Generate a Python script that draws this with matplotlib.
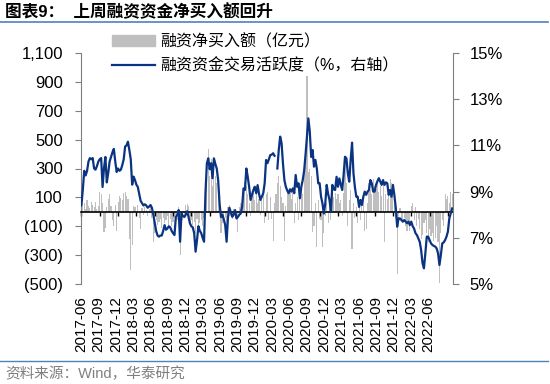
import numpy as np
import matplotlib
matplotlib.use('Agg')
import matplotlib.pyplot as plt
from matplotlib.patches import Patch
from matplotlib.lines import Line2D

plt.rcParams['font.family'] = ['Liberation Sans', 'Noto Sans CJK SC', 'DejaVu Sans']

# weekly data, 2017-06 .. 2022-06
tick_labels = ['2017-06', '2017-09', '2017-12', '2018-03', '2018-06', '2018-09', '2018-12',
               '2019-03', '2019-06', '2019-09', '2019-12', '2020-03', '2020-06', '2020-09',
               '2020-12', '2021-03', '2021-06', '2021-09', '2021-12', '2022-03', '2022-06']

# 融资净买入额 (亿元)
net_buy = [45, 30, 60, 20, 85, 40, 25, 70, 50, 30,
           65, 20, 40, 135, 120, 60, -140, -110, 30, 90,
           120, 40, -60, -100, 50, -130, 70, 110, 95, 80,
           130, 135, 110, 90, -190, -400, -230, 40, 30, -30,
           50, -40, -120, 25, -20, 35, 15, -30, 20, 30,
           -40, -210, -150, -60, -90, -70, -50, -110, -40, -80,
           -60, -30, -90, -50, -100, -70, -40, -20, -60, 30,
           -300, -40, -60, -20, 50, 55, 40, -75, -60, -90,
           -70, -145, -50, -110, -80, -60, -100, -40, 180, 300,
           435, 250, 365, 180, 300, 250, 200, 110, 40, -145,
           -80, -60, -40, -95, 30, 50, -30, -50, 20, -40,
           -60, -143, 30, 60, 100, 150, 205, 180, 120, 60,
           -28, 110, 130, 80, 150, 60, 90, -20, 80, 140,
           -80, 120, 139, -60, 100, -50, -200, 60, 120, 200,
           250, 180, 100, 60, -200, 40, 150, 120, 160, 90,
           140, -80, 60, 100, -60, 200, 150, 120, 280, 350,
           940, 275, 300, 250, -143, -100, 60, -245, 80, -50,
           -60, -245, -150, -30, 60, -80, 40, -60, 135, 100,
           130, 90, 120, 60, 80, -30, 130, 350, 200, -100,
           80, 150, -260, 60, -40, 30, -80, 40, -60, 50,
           100, -130, -120, 60, 200, 150, 120, 225, 180, 160,
           200, 140, 180, 110, 210, -210, 120, 90, 150, 225,
           200, 140, 60, -40, -430, -60, 25, -50, -80, -40,
           -100, -130, -80, -130, 40, 60, -60, 30, -100, -50,
           -120, -190, -160, -80, -60, -150, -210, -120, -170, -150,
           -200, -180, -100, -210, -490, -150, -60, -100, 123, 90,
           110, 60, 135, 125]

# 融资资金交易活跃度 (%)
activity = [8.4, 9.1, 9.9, 9.7, 9.9, 10.3, 10.45, 10.4, 10.45, 10.0,
            9.95, 10.1, 10.3, 10.4, 10.45, 9.2, 10.0, 10.5, 9.4, 9.8,
            10.3, 10.5, 10.7, 10.85, 10.3, 9.85, 10.0, 9.9, 9.95, 10.15,
            10.4, 10.95, 11.0, 11.16, 10.8, 10.4, 9.3, 9.65, 9.5, 9.3,
            9.2, 8.9, 8.6, 8.5, 8.4, 8.45, 8.4, 8.3, 8.35, 8.42,
            8.3, 8.0, 7.65, 7.3, 7.1, 7.05, 7.1, 7.1, 7.3, 7.55,
            7.35, 7.4, 7.5, 7.45, 7.3, 7.2, 7.12, 7.9, 8.0, 8.2,
            6.83, 8.05, 7.95, 7.9, 8.0, 8.15, 7.9, 7.62, 7.5, 7.45,
            7.2, 6.4, 6.9, 7.5, 7.3, 7.2, 7.0, 6.83, 8.93, 10.23,
            10.44, 9.97, 10.23, 9.58, 10.44, 10.2, 10.0, 9.5, 8.5, 7.9,
            8.0, 7.8, 7.55, 6.83, 7.91, 8.3, 8.1, 7.91, 8.0, 8.2,
            7.84, 7.9, 8.0, 8.05, 8.34, 9.14, 9.07, 10.0, 9.64, 9.2,
            8.64, 8.85, 9.07, 9.21, 8.93, 9.28, 8.9, 8.64, 8.78, 8.93,
            9.36, 10.37, 10.23, 10.4, 10.58, 10.6, 10.66, 10.55, np.nan, 10.0,
            10.8, 11.38, 11.1, 10.2, 9.5, 9.21, 9.05, 8.93, 9.1, 9.0,
            9.14, 8.93, 9.72, 9.21, 9.36, 8.71, 9.21, 9.5, 9.9, 10.6,
            11.4, 12.17, 11.6, 10.5, 10.8, 10.08, 10.37, 10.0, 9.36, 9.36,
            8.78, 8.49, 8.05, 8.49, 9.29, 8.9, 8.64, 8.13, 9.29, 9.1,
            9.07, 9.64, 9.21, 9.57, 9.3, 9.07, 9.72, 10.51, 10.44, 9.79,
            9.43, 10.37, 11.12, 9.79, 9.2, 8.78, 8.78, 8.34, 8.64, 8.42,
            8.78, 9.0, 8.86, 9.0, 9.07, 9.5, 9.36, 9.0, 9.0, 9.29,
            9.45, 9.58, 9.43, 9.29, 9.5, 9.29, 9.4, 9.36, 8.86, 9.07,
            8.78, 9.29, 8.86, 8.3, 7.48, 7.84, 7.84, 7.77, 7.7, 7.77,
            7.7, 7.63, 7.7, 7.55, 7.7, 7.5, 7.4, 7.2, 7.12, 6.98,
            6.83, 6.47, 5.9, 5.68, 6.33, 7.05, 7.05, 6.9, 6.76, 6.69,
            6.65, 6.62, 6.54, 6.33, 5.82, 6.26, 6.76, 6.8, 6.9, 7.05,
            7.27, 7.84, 8.05, 8.27]

x = np.arange(len(net_buy))
tick_pos = np.arange(0, len(net_buy), 13)[:len(tick_labels)]
# category labels are spaced a little tighter than the tick marks, as in the source chart
label_pos = np.linspace(-0.2, 246, len(tick_labels))

bar_color = '#BFBFBF'
line_color = '#0A3382'
axis_gray = '#7F7F7F'

fig = plt.figure(figsize=(5.5, 3.84), dpi=100)
ax = fig.add_axes([81/550, 1-284/384, (452.7-81)/550, (284-53)/384])

ax.bar(x, net_buy, width=0.8, color=bar_color, zorder=1)
ax.set_xlim(-0.3, len(net_buy) - 0.6)
ax.set_ylim(-500, 1100)
ax.set_yticks(np.arange(-500, 1101, 200))


def fmt_left(v):
    if v < 0:
        return '({:,})'.format(int(-v))
    return '{:,}'.format(int(v))


ax.set_yticklabels([fmt_left(v) for v in np.arange(-500, 1101, 200)])

for s in ['top', 'right']:
    ax.spines[s].set_visible(False)
ax.spines['left'].set_color(axis_gray)
ax.spines['bottom'].set_position(('data', 0))
ax.spines['bottom'].set_color('black')
ax.spines['bottom'].set_linewidth(1.2)
ax.spines['bottom'].set_zorder(5)
ax.set_xticks(tick_pos)
ax.tick_params(axis='x', length=3, width=1, color='black', direction='out', labelbottom=False)
ax.tick_params(axis='y', length=4, color=axis_gray, labelsize=12, pad=9)

sec = ax.secondary_xaxis(0.0)
sec.set_xticks(label_pos)
sec.set_xticklabels(tick_labels, rotation=90, fontsize=11)
sec.tick_params(length=0, pad=9)
sec.spines['bottom'].set_visible(False)

ax2 = ax.twinx()
ax2.plot(x, activity, color=line_color, lw=1.6, zorder=3)
ax2.set_ylim(5, 15)
ax2.set_yticks([5, 7, 9, 11, 13, 15])
ax2.set_yticklabels(['5%', '7%', '9%', '11%', '13%', '15%'])
for s in ['top', 'left', 'bottom']:
    ax2.spines[s].set_visible(False)
ax2.spines['right'].set_color(axis_gray)
ax2.tick_params(axis='y', length=4, color=axis_gray, labelsize=12, pad=8)

handles = [Patch(color=bar_color), Line2D([0], [0], color=line_color, lw=1.6)]
fig.legend(handles, ['融资净买入额（亿元）', '融资资金交易活跃度（%，右轴）'],
           loc='upper left', bbox_to_anchor=(112/550, 1-34/384), frameon=False,
           fontsize=11.5, handlelength=2.7, handletextpad=0.3, labelspacing=0.55,
           borderpad=0, borderaxespad=0)

fig.text(5/550, 1-12/384, '图表9：  上周融资资金净买入额回升', fontsize=12, fontweight='bold',
         va='center', ha='left')
fig.add_artist(Line2D([0, 548/550], [1-22/384, 1-22/384], color='#4F81BD', lw=1.2))
fig.add_artist(Line2D([0, 548/550], [1-361/384, 1-361/384], color='#4F81BD', lw=1.0))
fig.text(5/550, 1-374/384, '资料来源：Wind，华泰研究', fontsize=10.5, color=axis_gray,
         va='center', ha='left')

fig.savefig('out.png', dpi=100)
